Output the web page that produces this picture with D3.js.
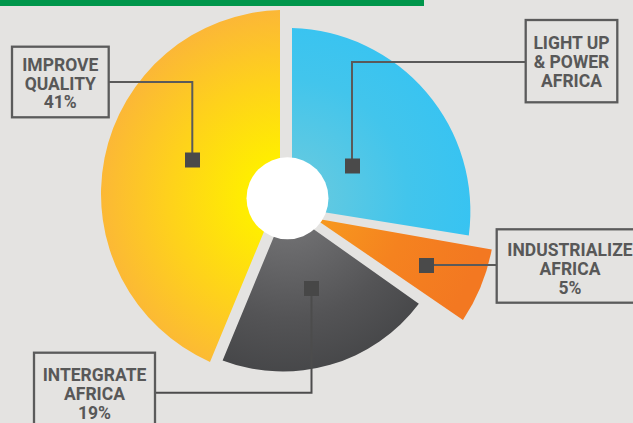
<!DOCTYPE html>
<html><head><meta charset="utf-8">
<script src="https://cdn.jsdelivr.net/npm/d3@7"></script>
<style>html,body{margin:0;padding:0;background:#e4e3e1;overflow:hidden} svg{display:block}</style>
</head><body>
<svg id="chart" width="633" height="423"></svg>
<script>
// ---- data ----
const categories = ["LIGHT UP & POWER AFRICA", "INDUSTRIALIZE AFRICA", "INTERGRATE AFRICA", "IMPROVE QUALITY"];
const values = [25, 5, 19, 41];               // light-up share (no label shown)
const nameLines = [["LIGHT UP", "& POWER", "AFRICA"], ["INDUSTRIALIZE", "AFRICA"], ["INTERGRATE", "AFRICA"], ["IMPROVE", "QUALITY"]];
const showPercent = [false, true, true, true];

// ---- styles / layout (kept out of the data) ----
const W = 633, H = 423;
const hub = {x: 287.5, y: 198.3, r: 41};
const sliceCenter = [[287, 211.4], [305, 214.4], [283, 201.5], [285, 193.9]];
const sliceRadius = [183.4, 190, 170, 184];
const grad = [
  [[0.2, "#5fc9e2"], [0.6, "#42c5ec"], [1, "#35c3f3"]],
  [[0.2, "#f7981e"], [0.6, "#f5821f"], [1, "#f37821"]],
  [[0.2, "#6e6e70"], [0.6, "#545456"], [1, "#404143"]],
  [[0.2, "#ffee00"], [0.6, "#fed11c"], [1, "#fbb33b"]]
];
const boxes = [
  {x: 525.7, y: 20, w: 91.6, h: 82.3, tx: 571.5, ty: 49.3},
  {x: 496.7, y: 229.3, w: 147, h: 73.4, tx: 570, ty: 256},
  {x: 34, y: 352.7, w: 121, h: 80, tx: 94.5, ty: 381},
  {x: 12, y: 46.7, w: 96.7, h: 70.6, tx: 60.3, ty: 70.7}
];
const leaders = [
  {pts: [[525.7, 62], [352, 62], [352, 166]], sq: [352.5, 166]},
  {pts: [[496.7, 265], [426.5, 265]], sq: [426.5, 265.5]},
  {pts: [[155, 392.7], [311.5, 392.7], [311.5, 288.5]], sq: [311.5, 288.5]},
  {pts: [[108.7, 82], [192.3, 82], [192.3, 160]], sq: [192.5, 160]}
];
const sqColor = ["#4a4a4a", "#4a4a4a", "#474747", "#4a4a4a"];
const ink = "#585858";

const svg = d3.select("#chart");
svg.append("rect").attr("width", W).attr("height", H).attr("fill", "#e4e3e1");
svg.append("rect").attr("x", 0).attr("y", 0).attr("width", 424).attr("height", 6).attr("fill", "#00964b");

const defs = svg.append("defs");
grad.forEach((g, i) => {
  // gradient is centred on the hub, expressed in each slice's own (translated) coordinates
  const rg = defs.append("radialGradient").attr("id", "g" + i)
    .attr("gradientUnits", "userSpaceOnUse")
    .attr("cx", hub.x - sliceCenter[i][0]).attr("cy", hub.y - sliceCenter[i][1]).attr("r", 200);
  g.forEach(s => rg.append("stop").attr("offset", s[0]).attr("stop-color", s[1]));
});

const pie = d3.pie().value(d => d).sort(null)
  .startAngle(0).endAngle(2 * Math.PI)
  .padAngle(7.9 * Math.PI / 180);
const arcs = pie(values);

arcs.forEach((a, i) => {
  const arc = d3.arc().innerRadius(10).outerRadius(sliceRadius[i]).padRadius(72.6);
  svg.append("path")
    .attr("transform", `translate(${sliceCenter[i][0]},${sliceCenter[i][1]})`)
    .attr("d", arc(a))
    .attr("fill", `url(#g${i})`);
});

svg.append("circle").attr("cx", hub.x).attr("cy", hub.y).attr("r", hub.r).attr("fill", "#ffffff");

// leaders
leaders.forEach((l, i) => {
  svg.append("path").attr("d", d3.line()(l.pts))
    .attr("fill", "none").attr("stroke", i === 2 ? "#4c4c4c" : "#5a5a5a").attr("stroke-width", 2);
  svg.append("rect").attr("x", l.sq[0] - 7.5).attr("y", l.sq[1] - 7.5)
    .attr("width", 15).attr("height", 15).attr("fill", sqColor[i]);
});

// label boxes
categories.forEach((c, i) => {
  const b = boxes[i];
  svg.append("rect").attr("x", b.x).attr("y", b.y).attr("width", b.w).attr("height", b.h)
    .attr("fill", "none").attr("stroke", "#5b5b5b").attr("stroke-width", 2.3);
  const lines = nameLines[i].slice();
  if (showPercent[i]) lines.push(values[i] + "%");
  const t = svg.append("text")
    .attr("text-anchor", "middle")
    .attr("font-family", "Roboto, 'DejaVu Sans', sans-serif")
    .attr("font-weight", "bold").attr("font-size", 17.5).attr("fill", ink);
  lines.forEach((ln, j) => {
    t.append("tspan").attr("x", b.tx).attr("y", b.ty + j * 18.8).text(ln);
  });
});
</script>
</body></html>
